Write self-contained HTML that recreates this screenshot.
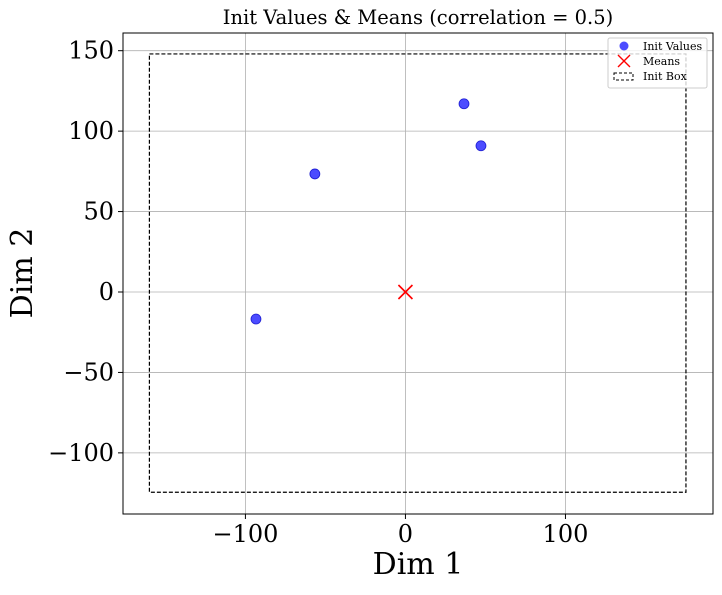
<!DOCTYPE html>
<html><head><meta charset="utf-8"><style>
body{margin:0;background:#fff}
text{font-family:"DejaVu Serif","Liberation Serif",serif}
</style></head><body>
<svg id="c" width="722" height="590" xmlns="http://www.w3.org/2000/svg"></svg>
<script>
const xTicks=[-100,0,100];
const yTicks=[-100,-50,0,50,100,150];
const initX=[-93.4,-56.6,36.6,47.2];
const initY=[-16.8,73.4,117,90.9];
const meansX=[0];
const meansY=[0];
const boxX=[-160,175.3];
const boxY=[-124.5,148];
const L=123,R=713,T=33,B=514;
const xmin=-176.5,xmax=192.2,ymin=-138,ymax=161;
const sx=v=>L+(v-xmin)/(xmax-xmin)*(R-L);
const sy=v=>B-(v-ymin)/(ymax-ymin)*(B-T);
const svg=document.getElementById('c');const NS='http://www.w3.org/2000/svg';
function mk(t,a,p,txt){const e=document.createElementNS(NS,t);for(const k in a)e.setAttribute(k,a[k]);if(txt!==undefined)e.textContent=String(txt);(p||svg).appendChild(e);return e;}
let e;
e=mk('rect',{x:L,y:T,width:R-L,height:B-T,fill:'#fff'});


xTicks.forEach(v=>{const x=sx(v);
e=mk('line',{x1:x,x2:x,y1:T,y2:B,stroke:'#b0b0b0','stroke-width':0.8});


mk('line',{x1:x,x2:x,y1:B,y2:B+5,stroke:'#000'});
e=mk('text',{x:x,y:B+28,'text-anchor':'middle','font-size':24},null,v<0?'\u2212'+(-v):v);

});
yTicks.forEach(v=>{const y=sy(v);
e=mk('line',{x1:L,x2:R,y1:y,y2:y,stroke:'#b0b0b0','stroke-width':0.8});


mk('line',{x1:L-5,x2:L,y1:y,y2:y,stroke:'#000'});
e=mk('text',{x:L-9,y:y+8,'text-anchor':'end','font-size':24},null,v<0?'\u2212'+(-v):v);

});
e=mk('rect',{x:sx(boxX[0]),y:sy(boxY[1]),width:sx(boxX[1])-sx(boxX[0]),height:sy(boxY[0])-sy(boxY[1]),fill:'none',stroke:'#000','stroke-width':1.2,'stroke-dasharray':'4,2'});


initX.forEach((v,i)=>{e=mk('circle',{cx:sx(v),cy:sy(initY[i]),r:5,fill:'rgba(0,0,255,0.7)',stroke:'rgba(0,0,200,0.8)','stroke-width':0.8});

});
meansX.forEach((v,i)=>{const x=sx(v),y=sy(meansY[i]);
e=mk('path',{d:`M${x-7},${y-7}L${x+7},${y+7}M${x-7},${y+7}L${x+7},${y-7}`,stroke:'red','stroke-width':1.6});

});
e=mk('rect',{x:L,y:T,width:R-L,height:B-T,fill:'none',stroke:'#000','stroke-width':1});


e=mk('text',{x:418,y:24,'text-anchor':'middle','font-size':19.5},null,'Init Values & Means (correlation = 0.5)');


e=mk('text',{x:418,y:574,'text-anchor':'middle','font-size':30},null,'Dim 1');


e=mk('text',{x:0,y:0,'text-anchor':'middle','font-size':30,transform:'translate(32,273) rotate(-90)'},null,'Dim 2');


const g=mk('g',{});


mk('rect',{x:608,y:38,width:99,height:50,rx:2,fill:'rgba(255,255,255,0.8)',stroke:'#ccc'},g);
mk('circle',{cx:624,cy:46,r:4.5,fill:'rgba(0,0,255,0.7)'},g);
mk('path',{d:'M618,55L630,67M618,67L630,55',stroke:'red','stroke-width':1.4},g);
mk('rect',{x:614,y:73,width:19,height:7,fill:'none',stroke:'#000','stroke-dasharray':'3,2'},g);
[['Init Values',50],['Means',65],['Init Box',80]].forEach(([t,y])=>{e=mk('text',{x:643,y:y,'font-size':11},g,t);

});
</script>
</body></html>
